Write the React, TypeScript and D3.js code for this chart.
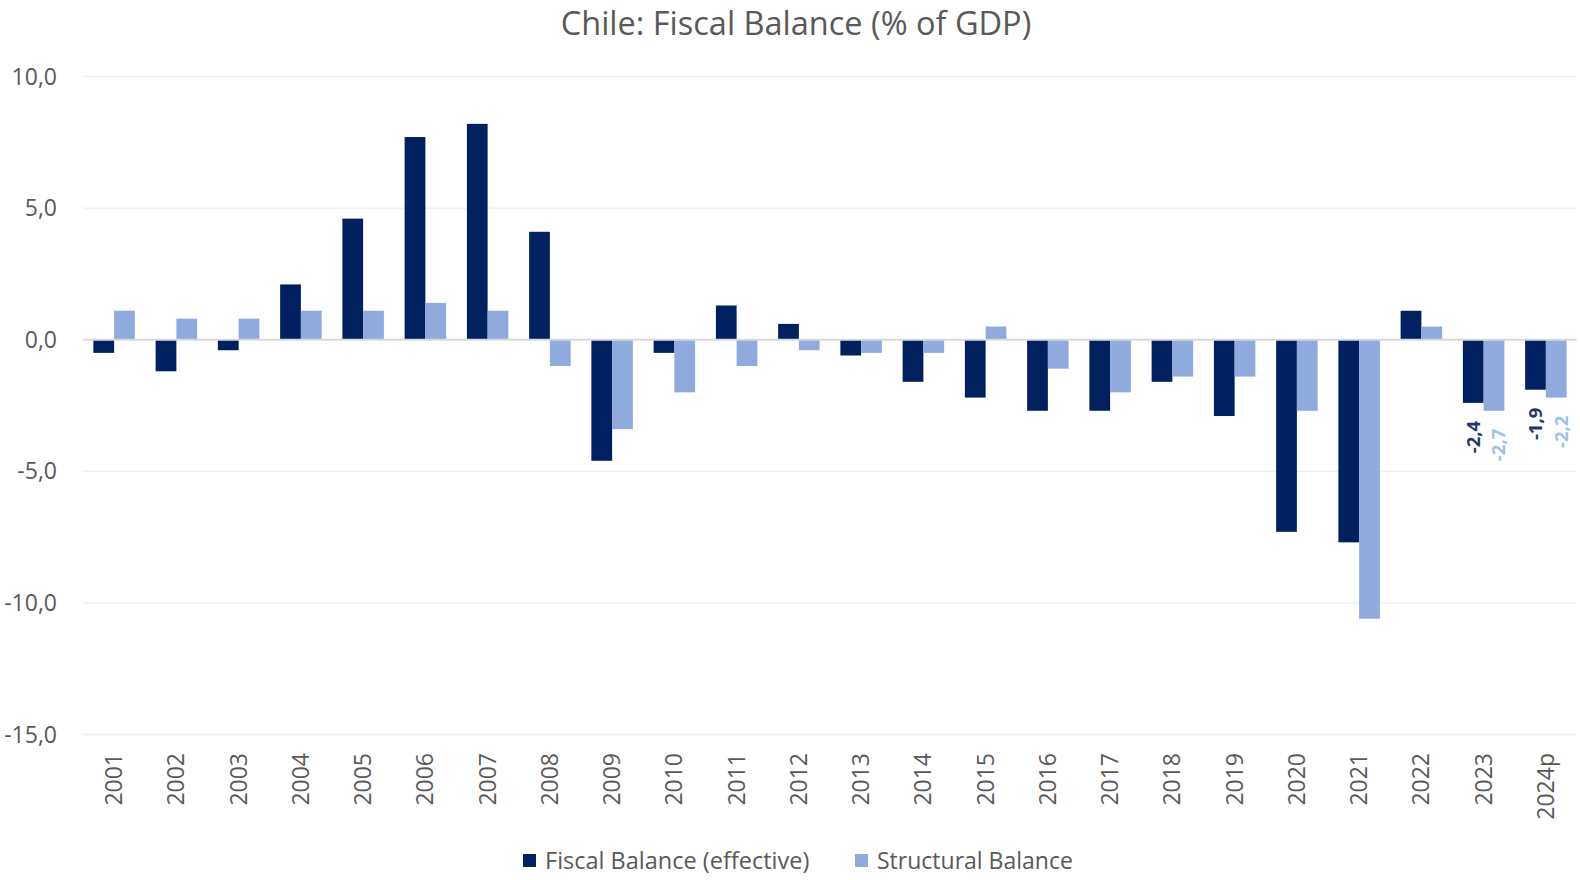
import React from "react";
import * as d3 from "d3";

const years = ["2001","2002","2003","2004","2005","2006","2007","2008","2009","2010","2011","2012","2013","2014","2015","2016","2017","2018","2019","2020","2021","2022","2023","2024p"];
const fiscal = [-0.5,-1.2,-0.4,2.1,4.6,7.7,8.2,4.1,-4.6,-0.5,1.3,0.6,-0.6,-1.6,-2.2,-2.7,-2.7,-1.6,-2.9,-7.3,-7.7,1.1,-2.4,-1.9];
const structural = [1.1,0.8,0.8,1.1,1.1,1.4,1.1,-1.0,-3.4,-2.0,-1.0,-0.4,-0.5,-0.5,0.5,-1.1,-2.0,-1.4,-1.4,-2.7,-10.6,0.5,-2.7,-2.2];
const yTicks = [10, 5, 0, -5, -10, -15];
const labeledYears = ["2023", "2024p"];
const seriesNames = ["Fiscal Balance (effective)", "Structural Balance"];

const W = 1580, H = 880;
const DARK = "#002060", LIGHT = "#8FAADC";
const DARK_LBL = "#1F3864", LIGHT_LBL = "#9DC3E6";
const FONT = "'Open Sans', sans-serif";
const GREY = "#595959";

export default function App() {
  const x = d3.scaleBand<string>().domain(years).range([83, 1577]).paddingInner(1 / 3).paddingOuter(1 / 6);
  const inner = d3.scaleBand<string>().domain(["f", "s"]).range([0, x.bandwidth()]);
  const y = d3.scaleLinear().domain([-15, 10]).range([734.5, 76.5]);
  const fmt = (v: number) => d3.format(".1f")(v).replace(".", ",").replace("−", "-");
  const series = [
    { key: "f", vals: fiscal, color: DARK, lbl: DARK_LBL },
    { key: "s", vals: structural, color: LIGHT, lbl: LIGHT_LBL },
  ];
  return (
    <svg width={W} height={H} style={{ position: "absolute", left: 0, top: 0, background: "#fff" }} fontFamily={FONT}>
      <rect width={W} height={H} fill="#fff" />
      <text x={796} y={35} textAnchor="middle" fontSize={32.5} fill={GREY}>Chile: Fiscal Balance (% of GDP)</text>
      {yTicks.map((t) => (
        <g key={t}>
          {t !== 0 && <line x1={83} x2={1577} y1={y(t)} y2={y(t)} stroke="#EFEFEF" strokeWidth={1.3} />}
          <text x={57} y={y(t)} dy="0.35em" textAnchor="end" fontSize={23} fill={GREY}>{fmt(t)}</text>
        </g>
      ))}
      {series.map((s) => (
        <g key={s.key}>
          {years.map((yr, i) => {
            const v = s.vals[i];
            const bx = (x(yr) as number) + (inner(s.key) as number);
            return <rect key={yr} x={bx} width={inner.bandwidth()} y={Math.min(y(v), y(0))} height={Math.abs(y(v) - y(0))} fill={s.color} />;
          })}
        </g>
      ))}
      <line x1={83} x2={1577} y1={y(0)} y2={y(0)} stroke="#D9D9D9" strokeWidth={2} />
      {series.map((s) =>
        labeledYears.map((yr) => {
          const i = years.indexOf(yr);
          const v = s.vals[i];
          const cx = (x(yr) as number) + (inner(s.key) as number) + inner.bandwidth() / 2 + (s.key === "s" ? 5 : 0);
          const ty = y(v) + 18;
          return (
            <text key={s.key + yr} transform={`translate(${cx},${ty}) rotate(-90)`} dy="0.35em" textAnchor="end" fontSize={18.5} fontWeight="bold" fill={s.lbl}>{fmt(v)}</text>
          );
        })
      )}
      {years.map((yr) => (
        <text key={yr} transform={`translate(${(x(yr) as number) + x.bandwidth() / 2},753) rotate(-90)`} dy="0.35em" textAnchor="end" fontSize={23} fill={GREY}>{yr}</text>
      ))}
      <g>
        <rect x={523} y={854} width={13} height={13} fill={DARK} />
        <text x={545} y={861} dy="0.35em" fontSize={23.5} fill={GREY}>{seriesNames[0]}</text>
        <rect x={855} y={854} width={13} height={13} fill={LIGHT} />
        <text x={877} y={861} dy="0.35em" fontSize={23} fill={GREY}>{seriesNames[1]}</text>
      </g>
    </svg>
  );
}
